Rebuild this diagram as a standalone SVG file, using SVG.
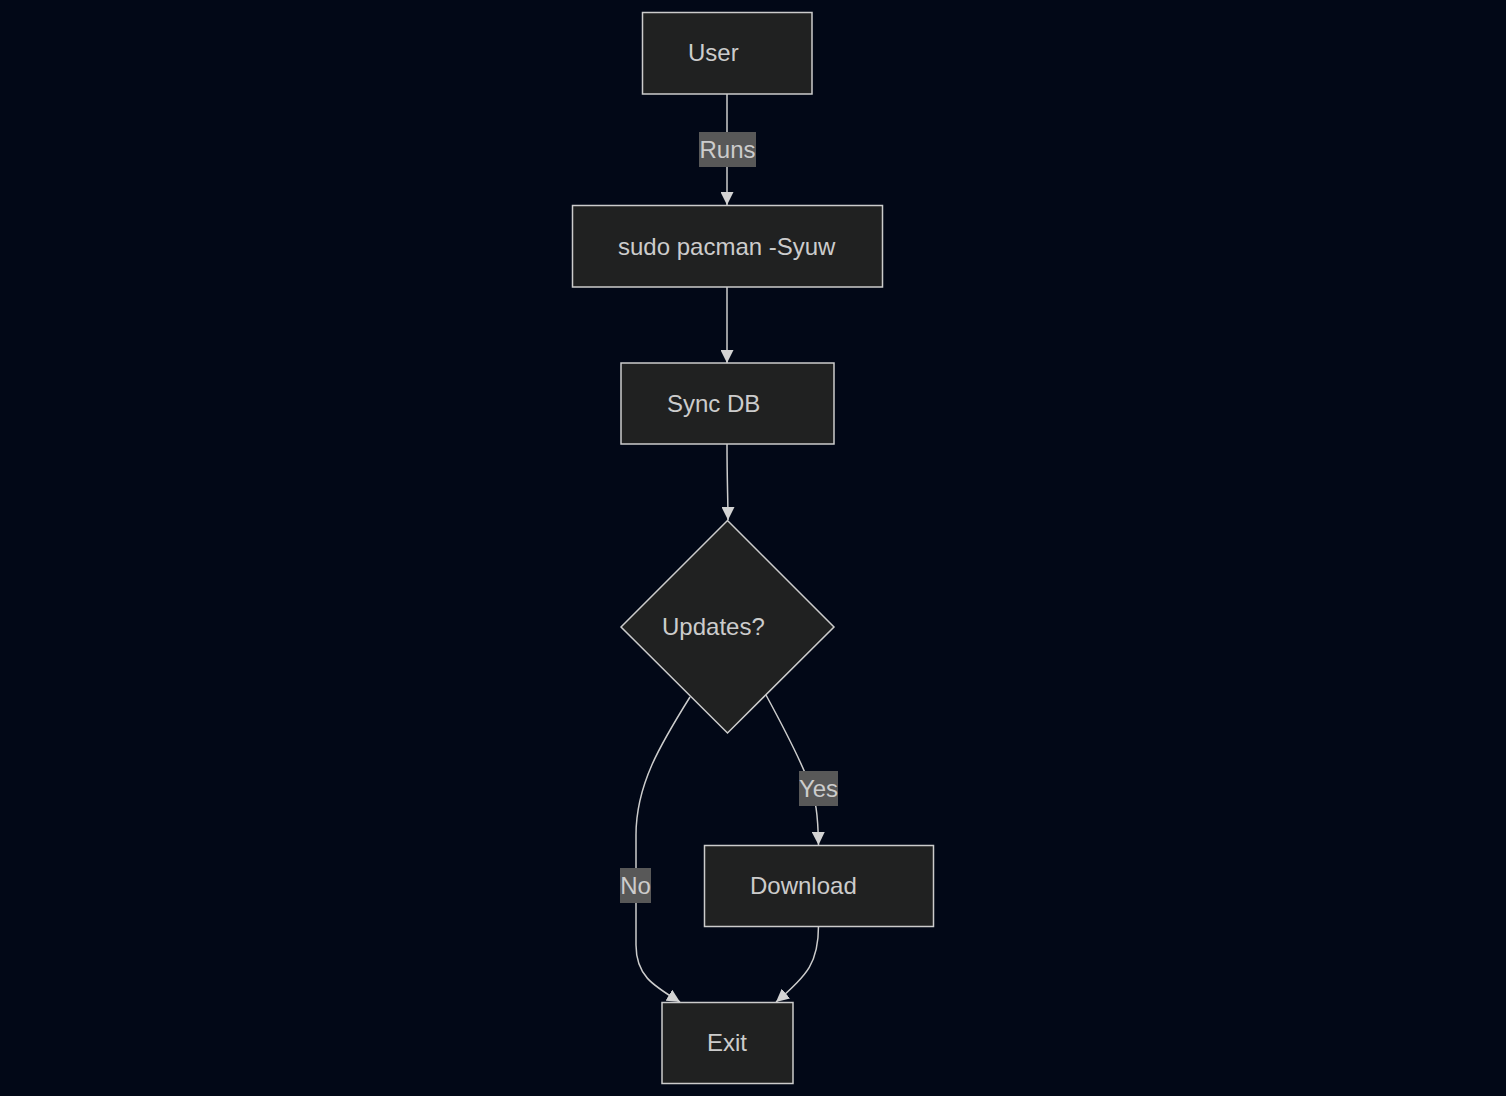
<svg xmlns="http://www.w3.org/2000/svg" width="1506" height="1096" viewBox="0 0 1506 1096">
<style>
.node rect,.node polygon{fill:#202121;stroke:#cccccc;stroke-width:1.5}
.node text{fill:#cccccc;font-family:"Liberation Sans",Arial,sans-serif;font-size:24px;dominant-baseline:central}
.edge{fill:none;stroke:#cccccc;stroke-width:1.5}
.lbl rect{fill:#585858}
.lbl text{fill:#cccccc;font-family:"Liberation Sans",Arial,sans-serif;font-size:24px;text-anchor:middle;dominant-baseline:central}
</style>
<defs>
<marker id="arr" viewBox="0 0 10 10" refX="10" refY="5" markerUnits="userSpaceOnUse" markerWidth="13" markerHeight="13" orient="auto">
<path d="M0,0 L10,5 L0,10 z" fill="#d3d3d3"/>
</marker>
</defs>
<rect width="1506" height="1096" fill="#020817"/>
<g id="connectors">
<path class="edge" d="M727,94 L727,205" marker-end="url(#arr)"/>
<path class="edge" d="M727,287 L727,363" marker-end="url(#arr)"/>
<path class="edge" d="M727,444 C727,480 728,500 728,520" marker-end="url(#arr)"/>
<path class="edge" d="M766,695 C785,730 800,760 808,780 C816,798 818,815 818.5,845" marker-end="url(#arr)"/>
<path class="edge" d="M690,697 C660,745 636,785 636,835 L636,945 C636,975 652,985 680,1002" marker-end="url(#arr)"/>
<path class="edge" d="M818.5,926 C818.5,962 808,975 776,1002" marker-end="url(#arr)"/>
<g class="lbl"><rect x="699" y="132" width="57" height="35"/><text x="727.5" y="149">Runs</text></g>
<g class="lbl"><rect x="799" y="771" width="39" height="35"/><text x="818.5" y="788">Yes</text></g>
<g class="lbl"><rect x="620" y="868" width="31" height="35"/><text x="635.5" y="885">No</text></g>
</g>
<g id="user" class="node"><rect x="642.5" y="12.5" width="169.5" height="81.5"/><text x="688" y="52">User</text></g>
<g id="pacman" class="node"><rect x="572.5" y="205.5" width="310" height="81.5"/><text x="618" y="246">sudo pacman -Syuw</text></g>
<g id="syncdb" class="node"><rect x="621" y="363" width="213" height="81"/><text x="667" y="403">Sync DB</text></g>
<g id="updates" class="node"><polygon points="727.5,520.5 834,627 727.5,733 621,627"/><text x="662" y="626">Updates?</text></g>
<g id="download" class="node"><rect x="704.5" y="845.5" width="229" height="81"/><text x="750" y="885">Download</text></g>
<g id="exit" class="node"><rect x="662" y="1002.5" width="131" height="81"/><text x="707" y="1042">Exit</text></g>
</svg>
